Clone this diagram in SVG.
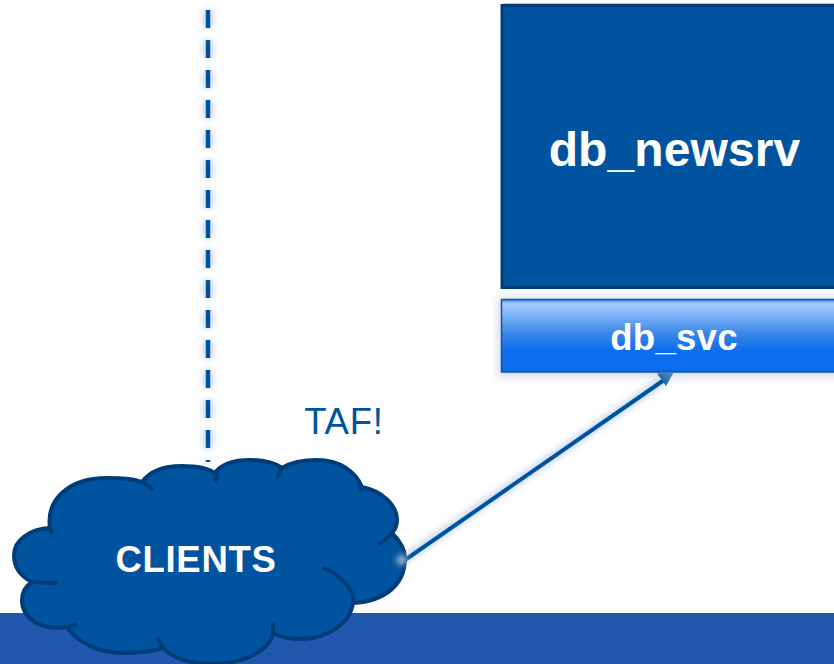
<svg xmlns="http://www.w3.org/2000/svg" width="834" height="664" viewBox="0 0 834 664">
<style>
text{font-family:"Liberation Sans",Arial,sans-serif;text-anchor:middle}
.b{font-weight:bold;fill:#fff}
.cl{fill:none;stroke:#003D78;stroke-width:4}
</style>
<defs>
<linearGradient id="g" x1="0" y1="0" x2="0" y2="1">
<stop offset="0" stop-color="#3F86E8"/><stop offset="0.06" stop-color="#A6CBFF"/><stop offset="0.5" stop-color="#3282E6"/><stop offset="0.72" stop-color="#0A6EF0"/><stop offset="1" stop-color="#0B6CEB"/>
</linearGradient>
<linearGradient id="ah" x1="0" y1="1" x2="1" y2="0">
<stop offset="0" stop-color="#00539F"/><stop offset="1" stop-color="#5C8FC4"/>
</linearGradient>
<filter id="glow" x="-50%" y="-50%" width="200%" height="200%"><feGaussianBlur stdDeviation="3"/></filter>
<filter id="glow2" x="-10%" y="-20%" width="120%" height="140%"><feGaussianBlur stdDeviation="4"/></filter>
</defs>
<rect width="834" height="664" fill="#fff"/>
<rect x="0" y="613" width="834" height="51" fill="#2158AE"/>
<g id="connectors">
<g filter="url(#glow)" opacity="0.45" stroke="#8FAEE0" fill="none">
<path d="M208 10V462" stroke-width="11" stroke-dasharray="18 12"/>
<path d="M403 560L664 380" stroke-width="9"/>
</g>
</g>
<g id="db_newsrv">
<rect x="503" y="3" width="331" height="3" fill="#B8C8DC"/>
<rect x="502" y="5.500" width="340" height="282" fill="#00539F" stroke="#003D78" stroke-width="3"/>
<text class="b" x="674.500" y="166" font-size="48" letter-spacing="0.100">db_newsrv</text>
</g>
<g id="db_svc">
<rect x="498" y="297" width="346" height="80" fill="#8AA6D8" opacity="0.4" filter="url(#glow2)"/>
<rect x="501.500" y="299.500" width="340" height="72.500" fill="url(#g)" stroke="#1F4E96" stroke-width="1.500"/>
<text class="b" x="674" y="350" font-size="36.500" letter-spacing="0.300">db_svc</text>
</g>
<g id="connector-lines">
<path d="M208 10V462" fill="none" stroke="#00539F" stroke-width="4.500" stroke-dasharray="18 12"/>
<path d="M405 560L664 380" fill="none" stroke="#00539F" stroke-width="4"/>
<path d="M674 372L657 373.500L666 386Z" fill="url(#ah)"/>
</g>
<g id="clients">
<path d="M50 528C46 500 68 478 107 478C122 478 134 479 142 482C150 471 165 466 182 466C195 466 208 468 215 473C222 463 237 460 250 460C265 460 275 463 282 468C290 463 303 460 317 460C340 460 356 472 362 487C382 491 397 505 397 520C397 527 395 530 392 533C400 541 405 550 405 558C405 585 385 601 353 603C350 625 325 639 300 639C290 639 280 637 273 633C270 652 240 664 213 664C190 664 172 658 163 648C150 652 138 653 123 653C98 653 77 642 67 627C40 631 22 618 22 600C22 592 26 586 32 582C20 576 14 566 14 555C14 540 30 529 50 528Z" fill="#00539F" stroke="#003D78" stroke-width="4" stroke-linejoin="round"/>
<path class="cl" d="M142 482Q148 485 153 490M215 482L218 473M277 478L282 468M360 491L362 487M378 545Q386 540 392 533M323 568C340 574 355 590 353 603M273 623L273 633M157 637L163 648M77 624L67 627M57 583Q45 583 32 582M52 534L50 528"/>
<text class="b" x="196" y="572" font-size="36.500" letter-spacing="0.700">CLIENTS</text>
</g>
<circle cx="402" cy="560" r="5" fill="#C8D4E8" opacity="0.9" filter="url(#glow)"/>
<text x="344" y="434" font-size="36.500" fill="#00539F" letter-spacing="0.800">TAF!</text>
</svg>
